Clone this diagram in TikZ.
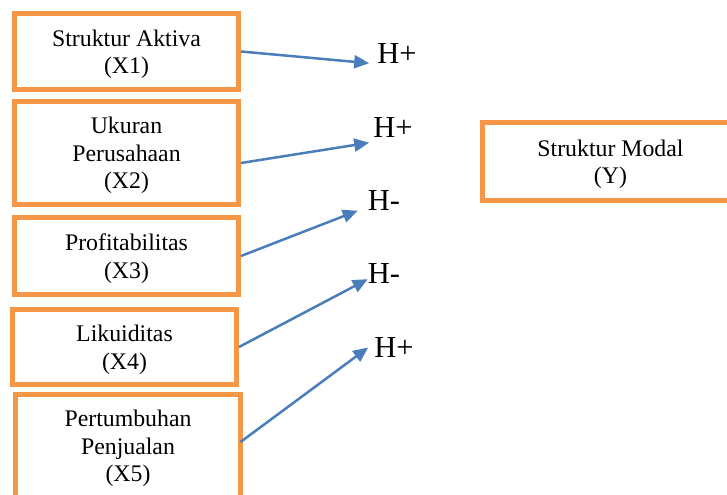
\documentclass[tikz,border=0pt]{standalone}
\usepackage{fontspec}
\setmainfont{Liberation Serif}
\usetikzlibrary{arrows.meta,calc}
\definecolor{boxorange}{HTML}{F79646}
\definecolor{linkblue}{HTML}{4A7EBB}

\begin{document}
\begin{tikzpicture}[
  x=1bp, y=-1bp,
  var/.style={draw=boxorange, line width=5bp, align=center, inner sep=0pt,
              minimum width=224bp, font=\fontsize{23.8bp}{27.5bp}\selectfont,
              text depth=-3.5bp},
  hyp/.style={inner sep=0pt, font=\fontsize{30.5bp}{34bp}\selectfont},
  link/.style={-{Triangle[length=15bp,width=13bp]}, line width=2.5bp, draw=linkblue},
]
% ---- canvas ----
\useasboundingbox (0,0) rectangle (727,495);
\clip (0,0) rectangle (727,495);

% ---- independent variables ----
\node[var, minimum height=76bp]  (x1) at (126.5,51.5) {Struktur Aktiva\\(X1)};
\node[var, minimum height=103bp] (x2) at (126.5,153)  {Ukuran\\Perusahaan\\(X2)};
\node[var, minimum height=77bp]  (x3) at (126.5,256)  {Profitabilitas\\(X3)};
\node[var, minimum height=75bp]  (x4) at (124.5,347)  {Likuiditas\\(X4)};
\node[var, minimum height=103bp] (x5) at (128,446)    {Pertumbuhan\\Penjualan\\(X5)};

% ---- dependent variable ----
\node[var, minimum width=256bp, minimum height=78bp] (y) at (610.5,161.5) {Struktur Modal\\(Y)};

% ---- hypothesis signs ----
\node[hyp] (h1) at (397,54)    {H+};
\node[hyp] (h2) at (393,127.5) {H+};
\node[hyp] (h3) at (384,200.5) {H-};
\node[hyp] (h4) at (384,274)   {H-};
\node[hyp] (h5) at (394,347.5) {H+};

% ---- arrows ----
\draw[link] (x1.east) -- ($(h1.south west)+(-8,-1)$);
\draw[link] ($(x2.east)+(0,10)$) -- ($(h2.south west)+(-4,5)$);
\draw[link] (x3.east) -- ($(h3.south west)+(-10,0)$);
\draw[link] (x4.east) -- ($(h4.south west)+(0,-5)$);
\draw[link] ($(x5.east)+(-2,-4)$) -- ($(h5.west)+(-6,0)$);
\end{tikzpicture}
\end{document}
